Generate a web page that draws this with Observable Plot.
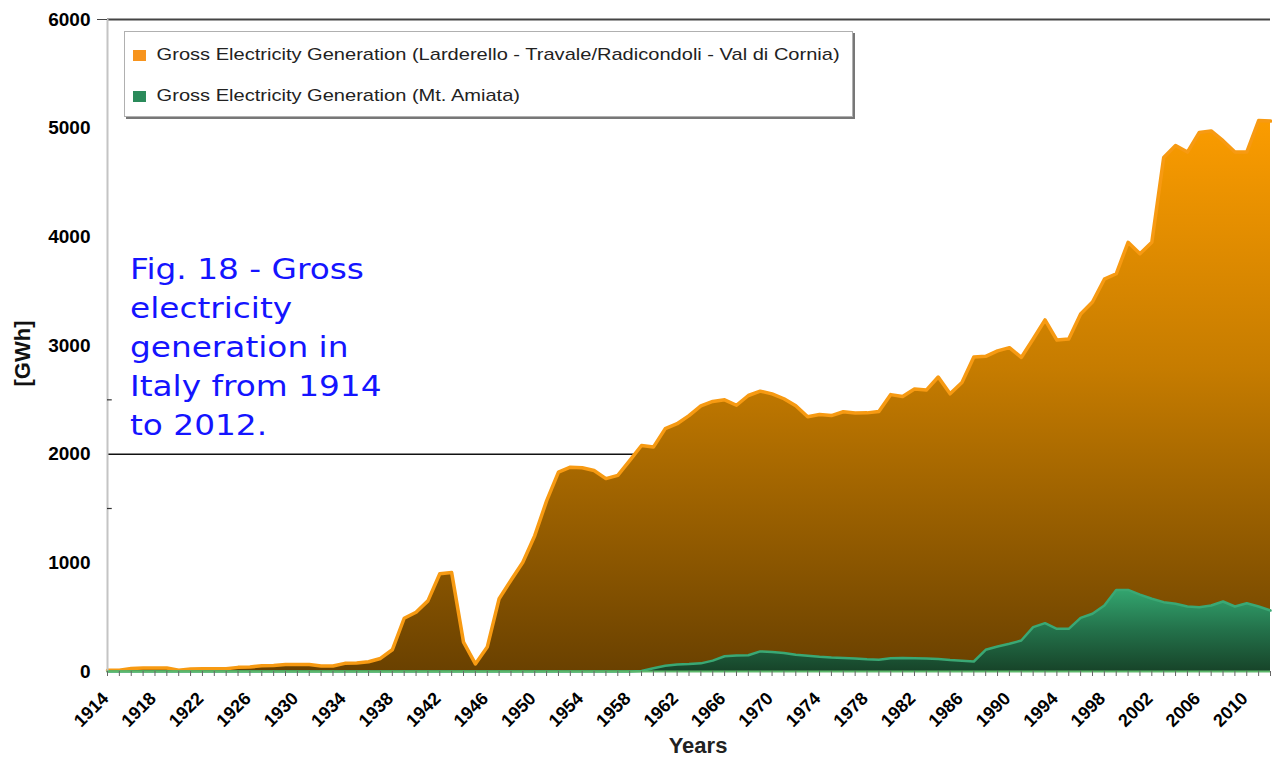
<!DOCTYPE html>
<html>
<head>
<meta charset="utf-8">
<script src="https://cdn.jsdelivr.net/npm/d3@7"></script>
<script src="https://cdn.jsdelivr.net/npm/@observablehq/plot@0.6"></script>
<style>
  html, body { margin: 0; padding: 0; background: #fff; }
  #wrap { position: relative; width: 1272px; height: 757px; overflow: hidden; }
  #legend {
    position: absolute; left: 124px; top: 31px; width: 727px; height: 84px;
    background: #fff; border: 1px solid #b0b0b0; box-shadow: 2px 2px 0 #777;
    font-family: "Liberation Sans", Arial, sans-serif; font-size: 17px; color: #222;
  }
  .item { position: absolute; left: 8px; display: flex; align-items: center; white-space: nowrap;
          transform: scaleX(1.18); transform-origin: left center; }
  .sw { width: 11px; height: 11px; margin-right: 9px; }
  #fig {
    position: absolute; left: 130px; top: 250px;
    font-family: "DejaVu Sans", Verdana, sans-serif; font-size: 28px; line-height: 39px;
    color: #1414ff; transform: scaleX(1.17); transform-origin: left top; white-space: nowrap;
  }
</style>
</head>
<body>
<div id="wrap">
  <div id="chart"></div>
  <div id="legend">
    <div class="item" style="top:13px"><div class="sw" style="background:#f7941d"></div><span id="lab1"></span></div>
    <div class="item" style="top:54px"><div class="sw" style="background:#2a8a5a"></div><span id="lab2"></span></div>
  </div>
  <div id="fig"></div>
</div>
<script>
const seriesNames = [
  "Gross Electricity Generation (Larderello - Travale/Radicondoli - Val di Cornia)",
  "Gross Electricity Generation (Mt. Amiata)"
];
const figLines = ["Fig. 18 - Gross", "electricity", "generation in", "Italy from 1914", "to 2012."];
const years = d3.range(1914, 2013);
const labelYears = d3.range(1914, 2011, 4);
const yTicks = [0, 1000, 2000, 3000, 4000, 5000, 6000];
const gridLines = [2000, 6000];
const minorTicks = [1500, 2500];

const larderello = [
  12, 12, 28, 32, 32, 32,
  12, 22, 25, 25, 26, 38, 42, 52, 55, 64,
  65, 64, 50, 50, 75, 78, 90, 120, 200, 490,
  545, 650, 900, 910, 270, 70, 225, 670, 840, 1005,
  1250, 1570, 1835, 1880, 1875, 1850, 1775, 1805, 1940, 2080,
  2065, 2235, 2280, 2355, 2445, 2485, 2500, 2450, 2540, 2580,
  2555, 2510, 2445, 2345, 2365, 2355, 2390, 2378, 2380, 2392,
  2548, 2530, 2600, 2590, 2710, 2555, 2660, 2895, 2900, 2950,
  2980, 2890, 3060, 3235, 3050, 3060, 3290, 3400, 3610, 3660,
  3950, 3845, 3950, 4730, 4840, 4780, 4960, 4975, 4885, 4780,
  4780, 5070, 5065
];
const amiata = [
  0, 0, 0, 0, 0, 0,
  0, 0, 0, 0, 0, 0, 0, 0, 0, 0,
  0, 0, 0, 0, 0, 0, 0, 0, 0, 0,
  0, 0, 0, 0, 0, 0, 0, 0, 0, 0,
  0, 0, 0, 0, 0, 0, 0, 0, 0, 5,
  30, 52, 64, 68, 75, 100, 140, 148, 150, 185,
  180, 170, 155, 145, 135, 128, 125, 120, 112, 108,
  122, 125, 122, 120, 115, 105, 100, 92, 200, 230,
  255, 285, 408, 445, 393, 393, 494, 531, 607, 751,
  751, 708, 669, 638, 623, 598, 592, 607, 644, 598,
  628, 598, 561
];

const dataA = years.map((y, i) => ({year: y, value: larderello[i]}));
const dataB = years.map((y, i) => ({year: y, value: amiata[i]}));

const chart = Plot.plot({
  width: 1272,
  height: 757,
  marginLeft: 107,
  marginRight: 2,
  marginTop: 19,
  marginBottom: 86,
  style: {fontFamily: "'Liberation Sans', Arial, sans-serif", background: "#fff", color: "#000", overflow: "visible"},
  x: {domain: [1914, 2012], axis: null},
  y: {domain: [0, 6000], axis: null},
  marks: [
    Plot.ruleY([gridLines[0]], {stroke: "#111", strokeWidth: 1.5}),
    Plot.ruleY([gridLines[1]], {stroke: "#444", strokeWidth: 2}),
    Plot.areaY(dataA, {x: "year", y: "value", fill: "url(#gradOrange)"}),
    Plot.lineY(dataA, {x: "year", y: "value", stroke: "#f79a12", strokeWidth: 3.5}),
    Plot.areaY(dataB, {x: "year", y: "value", fill: "url(#gradGreen)"}),
    Plot.lineY(dataB, {x: "year", y: "value", stroke: "#3aa874", strokeWidth: 2.5}),
    Plot.ruleX([1914], {y1: 0, y2: 6000, stroke: "#c4c4c4", strokeWidth: 2}),
    Plot.ruleY(minorTicks, {x1: 1914, x2: 1914.4, stroke: "#333", strokeWidth: 1.2}),
    Plot.ruleY([0], {stroke: "#5cb86a", strokeWidth: 2}),
    Plot.axisX({ticks: years, tickSize: 5, tickFormat: () => "", stroke: "#666", label: null}),
    Plot.axisX({ticks: labelYears, tickSize: 0, tickPadding: 6, tickRotate: -45, dx: -2, dy: 18,
      tickFormat: d => String(d), fontSize: 18, fontWeight: "bold", label: null}),
    Plot.axisY({ticks: yTicks, tickSize: 0, tickPadding: 17, tickFormat: d3.format("d"),
      fontSize: 19, fontWeight: "bold", label: null}),
    Plot.axisY({ticks: [6000], tickSize: 10, tickFormat: () => "", stroke: "#444", label: null}),
    Plot.text(["Years"], {frameAnchor: "bottom", dx: 9, dy: 81, fontSize: 22, fontWeight: "bold", fill: "#222"}),
    Plot.text(["[GWh]"], {frameAnchor: "left", dx: -85, dy: 41, rotate: -90, fontSize: 22, fontWeight: "bold", fill: "#111"})
  ]
});

const ns = "http://www.w3.org/2000/svg";
const defs = document.createElementNS(ns, "defs");
function grad(id, stops) {
  const g = document.createElementNS(ns, "linearGradient");
  g.setAttribute("id", id);
  g.setAttribute("x1", "0"); g.setAttribute("y1", "0");
  g.setAttribute("x2", "0"); g.setAttribute("y2", "1");
  stops.forEach(([o, c]) => {
    const s = document.createElementNS(ns, "stop");
    s.setAttribute("offset", o); s.setAttribute("stop-color", c);
    g.appendChild(s);
  });
  defs.appendChild(g);
}
grad("gradOrange", [["0", "#fb9c00"], ["0.45", "#c67c00"], ["1", "#6a4100"]]);
grad("gradGreen", [["0", "#33a56f"], ["0.5", "#23714a"], ["1", "#174429"]]);
chart.insertBefore(defs, chart.firstChild);

document.getElementById("chart").appendChild(chart);
document.getElementById("lab1").textContent = seriesNames[0];
document.getElementById("lab2").textContent = seriesNames[1];
document.getElementById("fig").innerHTML = figLines.map(s => `<div>${s}</div>`).join("");
</script>
</body>
</html>
